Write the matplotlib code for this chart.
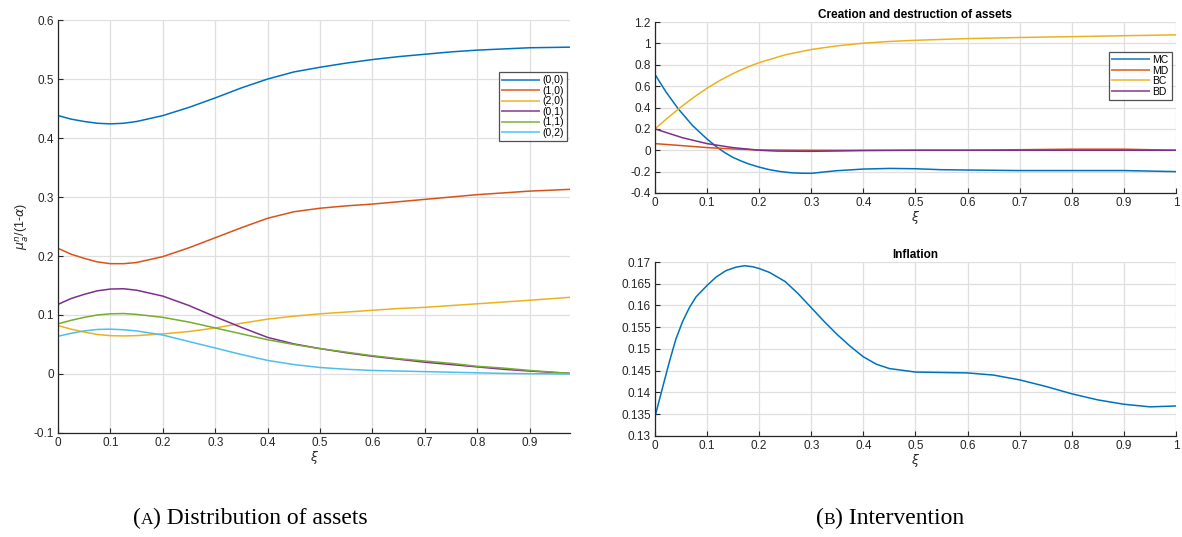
import numpy as np
import matplotlib
matplotlib.use("Agg")
import matplotlib.pyplot as plt
from matplotlib.offsetbox import TextArea, HPacker, AnnotationBbox

# ---- distribution of assets ----
xi_a = [0.0, 0.025, 0.05, 0.075, 0.1, 0.125, 0.15, 0.2, 0.25, 0.3, 0.35, 0.4, 0.45,
        0.5, 0.55, 0.6, 0.65, 0.7, 0.75, 0.8, 0.85, 0.9, 0.977]
mu_00 = [0.438, 0.432, 0.428, 0.425, 0.424, 0.425, 0.428, 0.438, 0.452, 0.468, 0.485,
         0.500, 0.512, 0.520, 0.527, 0.533, 0.538, 0.542, 0.546, 0.549, 0.551, 0.553,
         0.554]
mu_10 = [0.213, 0.203, 0.196, 0.190, 0.187, 0.187, 0.189, 0.199, 0.214, 0.231, 0.248,
         0.264, 0.275, 0.281, 0.285, 0.288, 0.292, 0.296, 0.300, 0.304, 0.307, 0.310,
         0.313]
mu_20 = [0.082, 0.076, 0.071, 0.067, 0.065, 0.0645, 0.065, 0.068, 0.072, 0.078, 0.086,
         0.093, 0.098, 0.102, 0.105, 0.108, 0.111, 0.113, 0.116, 0.119, 0.122, 0.125,
         0.130]
mu_01 = [0.118, 0.128, 0.135, 0.141, 0.144, 0.1445, 0.142, 0.132, 0.116, 0.097, 0.079,
         0.062, 0.051, 0.043, 0.036, 0.030, 0.025, 0.020, 0.016, 0.012, 0.008, 0.005,
         0.001]
mu_11 = [0.085, 0.091, 0.096, 0.100, 0.102, 0.1025, 0.101, 0.096, 0.088, 0.078, 0.068,
         0.058, 0.050, 0.043, 0.037, 0.031, 0.026, 0.022, 0.018, 0.013, 0.010, 0.006,
         0.001]
mu_02 = [0.064, 0.069, 0.073, 0.0755, 0.076, 0.075, 0.073, 0.066, 0.055, 0.044, 0.033,
         0.023, 0.016, 0.011, 0.008, 0.006, 0.005, 0.004, 0.003, 0.002, 0.001, 0.0005,
         0.0]
dist_labels = ["(0,0)", "(1,0)", "(2,0)", "(0,1)", "(1,1)", "(0,2)"]

# ---- creation and destruction ----
xi_mc = [0.0, 0.021, 0.045, 0.072, 0.1, 0.12, 0.135, 0.149, 0.165, 0.18, 0.2, 0.22,
         0.24, 0.26, 0.28, 0.3, 0.347, 0.4, 0.45, 0.5, 0.55, 0.6, 0.7, 0.8, 0.9, 1.0]
mc = [0.71, 0.547, 0.386, 0.232, 0.105, 0.025, -0.025, -0.065, -0.10, -0.128, -0.158,
      -0.182, -0.199, -0.21, -0.215, -0.216, -0.192, -0.176, -0.170, -0.173, -0.182,
      -0.185, -0.19, -0.19, -0.19, -0.20]
xi_md = [0.0, 0.05, 0.1, 0.15, 0.2, 0.3, 0.4, 0.5, 0.6, 0.7, 0.8, 0.9, 1.0]
md = [0.062, 0.044, 0.025, 0.012, 0.003, 0.0, 0.0, 0.0, 0.0, 0.005, 0.01, 0.01, 0.0]
xi_bc = [0.0, 0.025, 0.05, 0.075, 0.1, 0.125, 0.15, 0.175, 0.2, 0.25, 0.3, 0.35, 0.4,
         0.45, 0.5, 0.6, 0.7, 0.8, 0.9, 1.0]
bc = [0.20, 0.305, 0.405, 0.497, 0.581, 0.654, 0.718, 0.773, 0.820, 0.893, 0.943,
      0.977, 1.002, 1.018, 1.029, 1.045, 1.055, 1.063, 1.072, 1.08]
xi_bd = [0.0, 0.053, 0.1, 0.149, 0.2, 0.235, 0.3, 0.35, 0.4, 0.5, 0.6, 0.7, 0.8, 0.9, 1.0]
bd = [0.20, 0.117, 0.062, 0.025, 0.0, -0.008, -0.01, -0.007, -0.003, 0.0, 0.0, 0.0,
      0.0, 0.0, 0.0]
flow_labels = ["MC", "MD", "BC", "BD"]

# ---- inflation ----
xi_inf = [0.0, 0.015, 0.028, 0.040, 0.053, 0.066, 0.079, 0.1, 0.117, 0.136, 0.155,
          0.172, 0.188, 0.2, 0.22, 0.25, 0.275, 0.3, 0.325, 0.35, 0.375, 0.4, 0.425,
          0.45, 0.5, 0.55, 0.6, 0.65, 0.7, 0.75, 0.8, 0.85, 0.9, 0.95, 1.0]
inflation = [0.1344, 0.1413, 0.1472, 0.1522, 0.1563, 0.1595, 0.1620, 0.1646, 0.1665,
             0.1680, 0.1688, 0.16915, 0.1689, 0.1685, 0.1676, 0.1655, 0.1627, 0.1595,
             0.1563, 0.1533, 0.1506, 0.1482, 0.1465, 0.1455, 0.1447, 0.1446, 0.1445,
             0.1440, 0.1429, 0.1414, 0.1397, 0.1383, 0.1373, 0.1367, 0.1369]

COLORS = ["#0072BD", "#D95319", "#EDB120", "#7E2F8E", "#77AC30", "#4DBEEE"]
TXT = "#262626"

plt.rcParams["font.family"] = ["Liberation Sans", "DejaVu Sans"]
plt.rcParams["mathtext.fontset"] = "dejavusans"

fig = plt.figure(figsize=(11.82, 5.37), dpi=100)


def style(ax, xlim, ylim, yticks, xticks):
    ax.set_xlim(*xlim)
    ax.set_ylim(*ylim)
    ax.set_xticks(xticks)
    ax.set_yticks(yticks)
    ax.set_xticklabels([("%g" % t) for t in xticks])
    ax.set_yticklabels([("%g" % t) for t in yticks])
    ax.grid(True, color="#dfdfdf", linewidth=0.9)
    ax.set_axisbelow(True)
    for s in ("top", "right"):
        ax.spines[s].set_visible(False)
    for s in ("left", "bottom"):
        ax.spines[s].set_color(TXT)
        ax.spines[s].set_linewidth(0.9)
    ax.tick_params(direction="in", length=3.5, width=0.8, colors=TXT,
                   labelsize=8.5, pad=3)
    ax.set_xlabel(r"$\xi$", fontsize=9, color=TXT, labelpad=0)


def legend(ax, anchor):
    leg = ax.legend(loc="upper right", bbox_to_anchor=anchor, fontsize=7.5,
                    frameon=True, fancybox=False, edgecolor="#262626",
                    handlelength=3.6, handletextpad=0.3, labelspacing=0.05,
                    borderpad=0.3, borderaxespad=0)
    leg.get_frame().set_linewidth(0.9)
    for line in leg.get_lines():
        line.set_alpha(0.75)
        line.set_linewidth(1.4)
    return leg


# Panel A: distribution of assets
axA = fig.add_axes([0.0491, 0.1937, 0.4332, 0.769])
for ys, c, lab in zip([mu_00, mu_10, mu_20, mu_01, mu_11, mu_02], COLORS, dist_labels):
    axA.plot(xi_a, ys, color=c, lw=1.1, label=lab)
style(axA, (0, 0.977), (-0.1, 0.6), np.arange(-0.1, 0.61, 0.1).round(2),
      np.arange(0, 0.91, 0.1).round(2))
axA.set_ylabel(r"$\mu_a^n$/(1-$\alpha$)", fontsize=9, color=TXT, labelpad=2)
legend(axA, (0.994, 0.874))

# Panel B top: creation and destruction
axB = fig.add_axes([0.5541, 0.6406, 0.4408, 0.3184])
for xs, ys, c, lab in zip([xi_mc, xi_md, xi_bc, xi_bd], [mc, md, bc, bd],
                          COLORS[:4], flow_labels):
    axB.plot(xs, ys, color=c, lw=1.1, label=lab)
style(axB, (0, 1), (-0.4, 1.2), np.arange(-0.4, 1.21, 0.2).round(2),
      np.arange(0, 1.01, 0.1).round(2))
axB.set_title("Creation and destruction of assets", fontsize=8.5,
              fontweight="bold", color="black", pad=3)
legend(axB, (0.992, 0.825))

# Panel B bottom: inflation
axC = fig.add_axes([0.5541, 0.1881, 0.4408, 0.324])
axC.plot(xi_inf, inflation, color=COLORS[0], lw=1.1)
style(axC, (0, 1), (0.13, 0.17), np.arange(0.13, 0.1701, 0.005).round(3),
      np.arange(0, 1.01, 0.1).round(2))
axC.set_title("Inflation", fontsize=8.5, fontweight="bold", color="black", pad=3)


# Sub-figure captions with a small-caps letter
def caption(x, letter, rest):
    fam = "Liberation Serif"
    parts = [TextArea("(", textprops=dict(size=17, family=fam)),
             TextArea(letter, textprops=dict(size=12.5, family=fam)),
             TextArea(") " + rest, textprops=dict(size=17, family=fam))]
    box = HPacker(children=parts, align="baseline", pad=0, sep=0)
    ab = AnnotationBbox(box, (x, 1 - 518 / 537), xycoords="figure fraction",
                        frameon=False, box_alignment=(0.5, 0.5))
    fig.add_artist(ab)


caption(250 / 1182, "A", "Distribution of assets")
caption(890 / 1182, "B", "Intervention")

fig.savefig("out.png", dpi=100)
